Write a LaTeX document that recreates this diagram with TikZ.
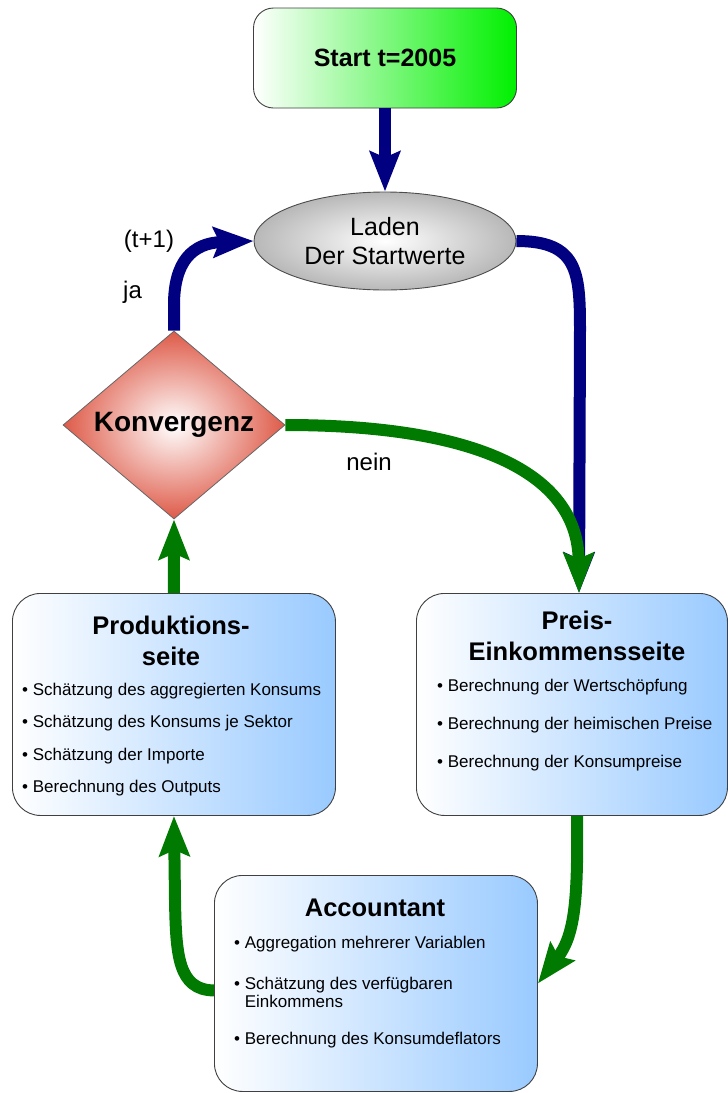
\documentclass[tikz,border=0pt]{standalone}
\usepackage{fontspec}
\setmainfont{Liberation Sans}
\usetikzlibrary{shapes.geometric,arrows.meta,calc}
\definecolor{navy}{HTML}{000080}
\definecolor{dgreen}{HTML}{007A00}
\definecolor{bgreen}{HTML}{00F000}
\definecolor{lblue}{HTML}{99CAFF}
\definecolor{kred}{HTML}{DE5A48}
\definecolor{egray}{HTML}{B8B8B8}
\begin{document}
\begin{tikzpicture}[x=1pt,y=-1pt,
  box/.style={draw=black!75, line width=0.9pt, rounded corners=28pt, left color=white, right color=lblue, anchor=north west, inner sep=0pt},
  navarrow/.style={draw=navy, line width=12pt, -{Stealth[length=40pt,width=30pt,inset=6pt]}},
  grnarrow/.style={draw=dgreen, line width=12pt, -{Stealth[length=40pt,width=30pt,inset=6pt]}},
  ttl/.style={font=\fontsize{25.5}{31}\selectfont\bfseries, align=center, inner sep=0pt},
  itm/.style={font=\fontsize{17}{18}\selectfont, anchor=west, inner sep=0pt, align=left},
  lab/.style={font=\fontsize{24}{28}\selectfont, inner sep=0pt}
]
\useasboundingbox (0,0) rectangle (728,1093);

% nodes
\node[draw=black!75, line width=0.9pt, rounded corners=20pt, left color=white, right color=bgreen,
      minimum width=263pt, minimum height=100pt, inner sep=0pt,
      font=\fontsize{25}{30}\selectfont\bfseries] (start) at (385,58) {Start t=2005};

\node[ellipse, draw=black!70, line width=0.9pt, inner color=white, outer color=egray,
      minimum width=262pt, minimum height=98pt, inner sep=0pt, align=center,
      font=\fontsize{25}{29}\selectfont] (laden) at (385,241) {Laden\\Der Startwerte};

\node[diamond, draw=black!60, line width=0.8pt, inner color=white, outer color=kred,
      minimum width=222pt, minimum height=188pt, aspect=1.18, inner sep=0pt,
      font=\fontsize{28}{32}\selectfont\bfseries] (kon) at (174,425) {Konvergenz};

\node[box, minimum width=323pt, minimum height=222pt] (prod) at (12,593) {};
\node[box, minimum width=311pt, minimum height=222pt] (preis) at (416,593) {};
\node[box, minimum width=323pt, minimum height=216pt] (acc) at (214,875) {};

% texts inside boxes
\node[ttl] (prodt) at (171,641) {Produktions-\\seite};
\node[itm] (p1) at (22,691) {• Schätzung des aggregierten Konsums};
\node[itm] (p2) at (22,723) {• Schätzung des Konsums je Sektor};
\node[itm] (p3) at (22,756) {• Schätzung der Importe};
\node[itm] (p4) at (22,788) {• Berechnung des Outputs};

\node[ttl] (preist) at (577,636) {Preis-\\Einkommensseite};
\node[itm] (q1) at (437,687) {• Berechnung der Wertschöpfung};
\node[itm] (q2) at (437,725) {• Berechnung der heimischen Preise};
\node[itm] (q3) at (437,763) {• Berechnung der Konsumpreise};

\node[ttl] (acct) at (375,908) {Accountant};
\node[itm] (a1) at (234,944) {• Aggregation mehrerer Variablen};
\node[itm] (a2) at (234,992) {• Schätzung des verfügbaren\\\hphantom{• }Einkommens};
\node[itm] (a3) at (234,1040) {• Berechnung des Konsumdeflators};

% labels
\node[lab] (tp1) at (149,241) {(t+1)};
\node[lab, anchor=west] (ja) at (123,292) {ja};
\node[lab] (nein) at (369,462) {nein};

% coordinates
\coordinate (pin) at ($(preis.north west)+(163,0)$);
\coordinate (pout) at ($(preis.south west)+(161,0)$);
\coordinate (accin) at ($(acc.west)+(0,7)$);

% connectors
\draw[navarrow] (start.south) -- (laden.north);
\draw[navarrow] (laden.east) .. controls (578,241) and (580,272) .. (580,330) -- (pin);
\draw[navarrow] (kon.north) -- (174,305) .. controls (174,262) and (192,243) .. (laden.west);
\draw[grnarrow] (kon.east) .. controls (470,425) and (578,470) .. (pin);
\draw[grnarrow] (prod.north) -- (kon.south);
\draw[grnarrow] (pout) .. controls (578,900) and (575,935) .. (acc.east);
\draw[grnarrow] (accin) .. controls (178,990) and (176,955) .. (175,900) -- (prod.south);
\end{tikzpicture}
\end{document}
